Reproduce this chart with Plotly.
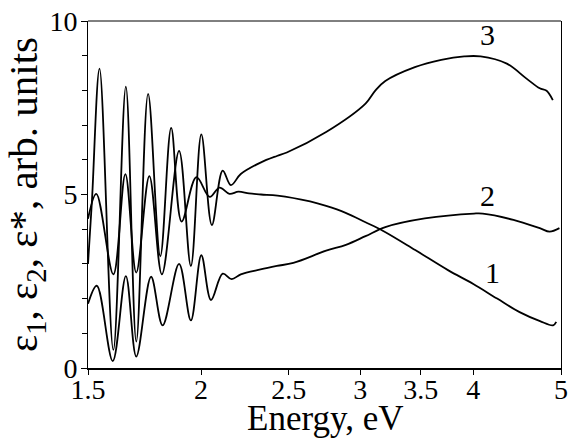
import math
import plotly.graph_objects as go

# ---- data (energy in eV, values in arb. units) ----
energy_1 = [1.5, 1.515, 1.5447, 1.600, 1.6517, 1.6962, 1.748, 1.8032, 1.8537, 1.9037,
            1.9766, 2.045, 2.0961, 2.15, 2.20, 2.26, 2.33, 2.43, 2.64, 2.75, 2.89,
            3.04, 3.18, 3.45, 3.75, 4.0, 4.25, 4.5, 4.74, 4.9, 4.94]
eps_1 = [3.0, 4.8, 8.63, 0.52, 8.11, 0.76, 7.9, 3.22, 6.92, 4.22,
         5.5, 4.93, 5.2, 5.02, 5.08, 5.03, 5.0, 4.97, 4.8, 4.67, 4.47,
         4.2, 3.95, 3.4, 2.82, 2.42, 2.0, 1.61, 1.35, 1.23, 1.33]

energy_2 = [1.5, 1.534, 1.5975, 1.6517, 1.6962, 1.7612, 1.8136, 1.8913, 1.949, 2.0015,
            2.0515, 2.1135, 2.162, 2.213, 2.327, 2.426, 2.53, 2.75, 2.892, 3.04,
            3.197, 3.535, 4.007, 4.097, 4.43, 4.737, 4.857, 4.98]
eps_2 = [1.85, 2.37, 0.2, 2.65, 0.33, 2.63, 1.23, 3.0, 1.37, 3.25,
         1.96, 2.72, 2.56, 2.7, 2.84, 2.94, 3.03, 3.38, 3.55, 3.8,
         4.06, 4.31, 4.45, 4.45, 4.27, 4.03, 3.93, 4.03]

energy_3 = [1.5, 1.532, 1.600, 1.6497, 1.696, 1.7535, 1.8104, 1.8913, 1.949, 2.0015,
            2.056, 2.1135, 2.158, 2.213, 2.327, 2.426, 2.488, 2.75, 3.04, 3.118,
            3.197, 3.447, 3.686, 3.908, 4.075, 4.356, 4.58, 4.737, 4.82, 4.897]
eps_3 = [4.3, 5.02, 2.7, 5.59, 2.75, 5.53, 2.7, 6.26, 2.94, 6.73,
         4.12, 5.69, 5.27, 5.59, 5.92, 6.11, 6.21, 6.8, 7.62, 8.0,
         8.27, 8.67, 8.88, 8.98, 8.98, 8.77, 8.34, 8.06, 7.99, 7.72]

x_ticks = [1.5, 2, 2.5, 3, 3.5, 4, 5]
x_tick_text = ["1.5", "2", "2.5", "3", "3.5", "4", "5"]
y_ticks = [0, 5, 10]

curve_labels = ["1", "2", "3"]
label_x = [4.2, 4.15, 4.15]
label_y = [2.75, 4.98, 9.62]

x_title = "Energy, eV"
y_title = "ε<sub>1</sub>, ε<sub>2</sub>, ε*, arb. units"

FONT = "Liberation Serif"

fig = go.Figure()
for ex, ey in [(energy_1, eps_1), (energy_2, eps_2), (energy_3, eps_3)]:
    fig.add_trace(go.Scatter(x=ex, y=ey, mode="lines",
                             line=dict(color="black", width=1.8, shape="spline", smoothing=1.0),
                             showlegend=False, hoverinfo="skip"))

for t, lx, ly in zip(curve_labels, label_x, label_y):
    fig.add_annotation(x=math.log10(lx), y=ly, text=t, showarrow=False,
                       font=dict(family=FONT, size=30, color="black"))

# x-axis title placed as a paper-anchored annotation to match the reference spacing
fig.add_annotation(x=0.5, y=0, xref="paper", yref="paper", text=x_title,
                   showarrow=False, xanchor="center", yanchor="middle", yshift=-50,
                   font=dict(family=FONT, size=35, color="black"))

fig.update_layout(
    width=574, height=443,
    margin=dict(l=88, r=6, t=17, b=75),
    paper_bgcolor="white", plot_bgcolor="white",
    font=dict(family=FONT, color="black", size=28),
    shapes=[dict(type="line", xref="paper", yref="paper", x0=0, x1=1, y0=1, y1=1,
                 line=dict(color="black", width=1))],
)
fig.update_xaxes(
    type="log", range=[math.log10(1.5), math.log10(5)],
    tickmode="array", tickvals=x_ticks, ticktext=x_tick_text,
    ticks="outside", ticklen=5, tickwidth=1, tickcolor="black",
    ticklabelstandoff=-10,
    showline=True, linewidth=2, linecolor="black", showgrid=False, zeroline=False,
    tickfont=dict(family=FONT, size=28, color="black"),
)
fig.update_yaxes(
    range=[0, 10], tickmode="array", tickvals=y_ticks,
    ticks="outside", ticklen=6, tickwidth=1, tickcolor="black",
    ticklabelstandoff=-2,
    minor=dict(dtick=1, ticks="outside", ticklen=5, tickwidth=1, tickcolor="black"),
    showline=True, linewidth=1, linecolor="black", mirror=True,
    showgrid=False, zeroline=False,
    tickfont=dict(family=FONT, size=28, color="black"),
    title=dict(text=y_title, font=dict(family=FONT, size=41, color="black"), standoff=2),
)

fig.write_html("out.html")
